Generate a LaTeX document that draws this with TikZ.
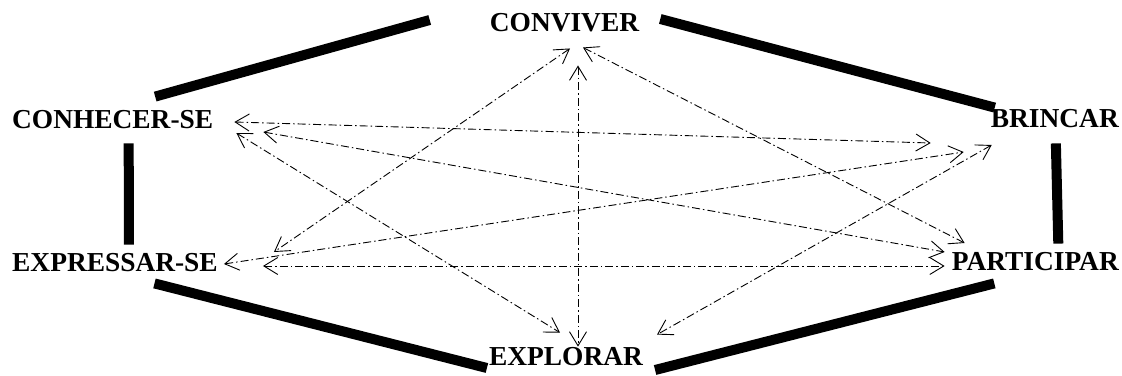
\documentclass[tikz,border=0pt]{standalone}
\usepackage{fontspec}
\setmainfont{Liberation Serif}
\usetikzlibrary{arrows.meta,calc}

\begin{document}
\begin{tikzpicture}[x=1pt, y=-1pt,
    word/.style={inner sep=0pt, font=\fontsize{27.4}{30}\selectfont\bfseries},
    bar/.style={line width=10pt},
    link/.style={<->, >={Straight Barb[length=14pt,width=17pt]}, line width=0.9pt, dash pattern=on 8pt off 3pt on 1.5pt off 3pt}]
    \useasboundingbox (0,0) rectangle (1122,375);

    % Words
    \node (conviver) [word] at (564.5,23) {CONVIVER};
    \node (conhecer) [word, anchor=west] at (12,120) {CONHECER-SE};
    \node (brincar) [word, anchor=east] at (1119,119) {BRINCAR};
    \node (expressar) [word, anchor=west] at (12,263) {EXPRESSAR-SE};
    \node (participar) [word, anchor=east] at (1119,262) {PARTICIPAR};
    \node (explorar) [word] at (566,357) {EXPLORAR};

    % Hexagon
    \draw[bar] ($(conhecer.north)+(42.5,-14)$) -- ($(conviver.west)+(-60,-3)$);
    \draw[bar] ($(conviver.east)+(21,-4)$) -- ($(brincar.north west)+(4,-2)$);
    \draw[bar] ($(conhecer.south)+(16,14)$) -- ($(expressar.north)+(14,-9)$);
    \draw[bar] ($(brincar.south)+(1,15)$) -- ($(participar.north)+(23,-9)$);
    \draw[bar] ($(expressar.south)+(39.5,11)$) -- ($(explorar.west)+(-2,11)$);
    \draw[bar] ($(explorar.east)+(12,13)$) -- ($(participar.south)+(-41,12)$);

    % Links
    \draw[link] ($(conhecer.east)+(21,2)$) -- ($(brincar.west)+(-60,24)$);
    \draw[link] ($(conhecer.east)+(50,12)$) -- ($(participar.west)+(-7,-10)$);
    \draw[link] ($(conhecer.east)+(23,13)$) -- ($(explorar.north)+(-6,-15)$);
    \draw[link] ($(conviver.south)+(5.5,16)$) -- ($(expressar.east)+(56,-11)$);
    \draw[link] ($(conviver.south)+(13.5,33)$) -- ($(explorar.north)+(12,-1)$);
    \draw[link] ($(conviver.south)+(18.5,15)$) -- ($(participar.west)+(13,-19)$);
    \draw[link] ($(expressar.east)+(6,1)$) -- ($(brincar.west)+(-27,33)$);
    \draw[link] ($(brincar.west)+(1,26)$) -- ($(explorar.north)+(91,-13)$);
    \draw[link] ($(expressar.east)+(45,3)$) -- ($(participar.west)+(-7,4)$);
\end{tikzpicture}
\end{document}
